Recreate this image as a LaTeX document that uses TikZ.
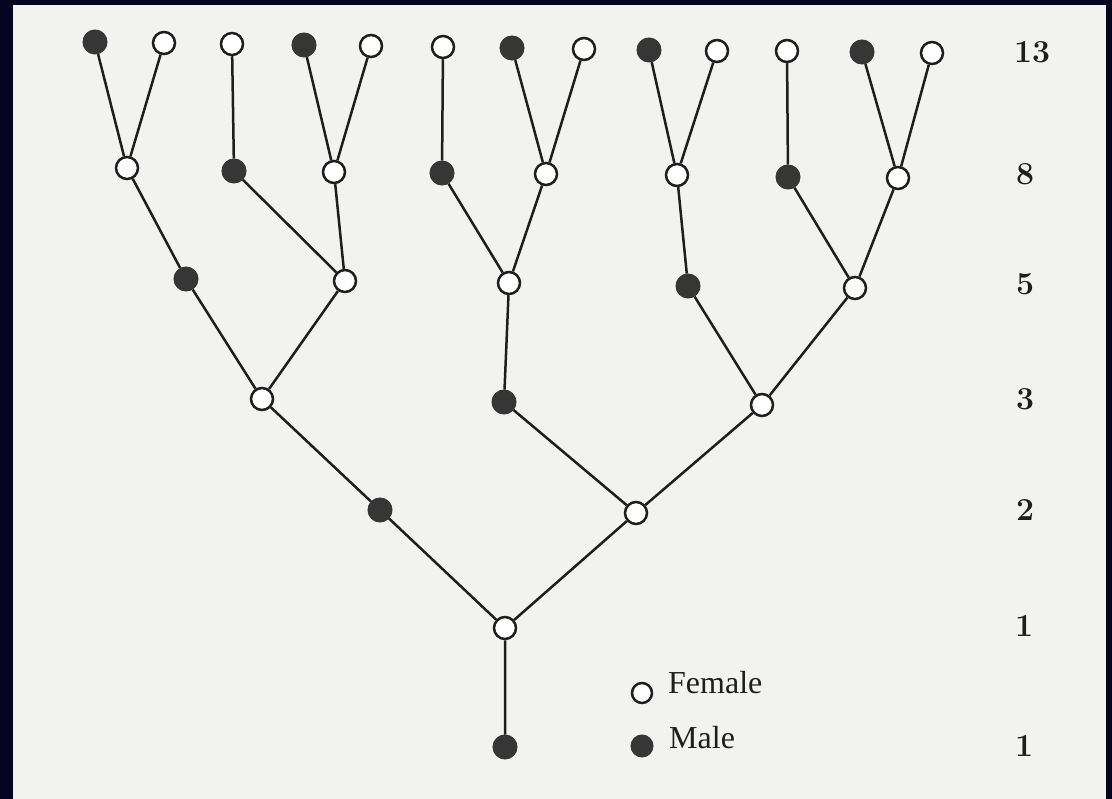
\documentclass[tikz,border=0pt]{standalone}
\usepackage{fontspec}
\newfontfamily\legendfont{Liberation Serif}
\definecolor{frame}{HTML}{05051F}
\definecolor{paper}{HTML}{F2F2F0}
\definecolor{ink}{HTML}{1E1E1E}
\definecolor{maleink}{HTML}{363636}
\tikzset{
  fem/.style={circle, draw=ink, fill=white, line width=2.5pt, minimum size=22pt, inner sep=0pt},
  mal/.style={circle, draw=maleink, fill=maleink, line width=1pt, minimum size=24pt, inner sep=0pt},
  legfem/.style={fem, minimum size=20pt},
  legmal/.style={mal, minimum size=22pt},
  branch/.style={draw=ink, line width=2.5pt},
  count/.style={anchor=west, inner sep=0pt, font=\fontsize{32}{32}\selectfont\bfseries, text=ink},
  legtext/.style={anchor=base west, inner sep=0pt, font=\legendfont\fontsize{32}{32}\selectfont, text=ink}
}
\begin{document}
\begin{tikzpicture}[x=1pt,y=-1pt]
\fill[frame] (0,0) rectangle (1112,799);
\fill[paper] (13,5) rectangle (1106,799);
\useasboundingbox (0,0) rectangle (1112,799);
% level 13
\node[mal] (t1) at (95,42) {};
\node[fem] (t2) at (164,43) {};
\node[fem] (t3) at (232,44) {};
\node[mal] (t4) at (304,45) {};
\node[fem] (t5) at (371,46) {};
\node[fem] (t6) at (443,47) {};
\node[mal] (t7) at (512,48) {};
\node[fem] (t8) at (584,49) {};
\node[mal] (t9) at (649,50) {};
\node[fem] (t10) at (717,51) {};
\node[fem] (t11) at (787,51) {};
\node[mal] (t12) at (862,52) {};
\node[fem] (t13) at (932,53) {};
% level 8
\node[fem] (e1) at (127,168) {};
\node[mal] (e2) at (234,171) {};
\node[fem] (e3) at (334,172) {};
\node[mal] (e4) at (442,173) {};
\node[fem] (e5) at (546,174) {};
\node[fem] (e6) at (677,175) {};
\node[mal] (e7) at (788,177) {};
\node[fem] (e8) at (898,178) {};
% level 5
\node[mal] (f1) at (186,279) {};
\node[fem] (f2) at (345,281) {};
\node[fem] (f3) at (509,283) {};
\node[mal] (f4) at (688,286) {};
\node[fem] (f5) at (855,288) {};
% level 3
\node[fem] (g1) at (262,399) {};
\node[mal] (g2) at (504,402) {};
\node[fem] (g3) at (762,405) {};
% level 2
\node[mal] (h1) at (380,510) {};
\node[fem] (h2) at (636,513) {};
% level 1
\node[fem] (r1) at (505,628) {};
\node[mal] (r0) at (505,747) {};
% connectors
\path[branch] (t1) -- (e1) (t2) -- (e1) (t3) -- (e2) (t4) -- (e3) (t5) -- (e3)
  (t6) -- (e4) (t7) -- (e5) (t8) -- (e5) (t9) -- (e6) (t10) -- (e6)
  (t11) -- (e7) (t12) -- (e8) (t13) -- (e8)
  (e1) -- (f1) (e2) -- (f2) (e3) -- (f2) (e4) -- (f3) (e5) -- (f3)
  (e6) -- (f4) (e7) -- (f5) (e8) -- (f5)
  (f1) -- (g1) (f2) -- (g1) (f3) -- (g2) (f4) -- (g3) (f5) -- (g3)
  (g1) -- (h1) (g2) -- (h2) (g3) -- (h2)
  (h1) -- (r1) (h2) -- (r1) (r1) -- (r0);
% counts
\node[count] (c13) at (1014,52) {13};
\node[count] (c8) at (1016,174) {8};
\node[count] (c5) at (1016,284) {5};
\node[count] (c3) at (1016,399) {3};
\node[count] (c2) at (1016,510) {2};
\node[count] (c1a) at (1015,626) {1};
\node[count] (c1b) at (1015,746) {1};
% legend
\node[legfem] (lf) at (642,693) {};
\node[legtext] (lft) at (668,693) {Female};
\node[legmal] (lm) at (642,746) {};
\node[legtext] (lmt) at (669,748) {Male};
\end{tikzpicture}
\end{document}
